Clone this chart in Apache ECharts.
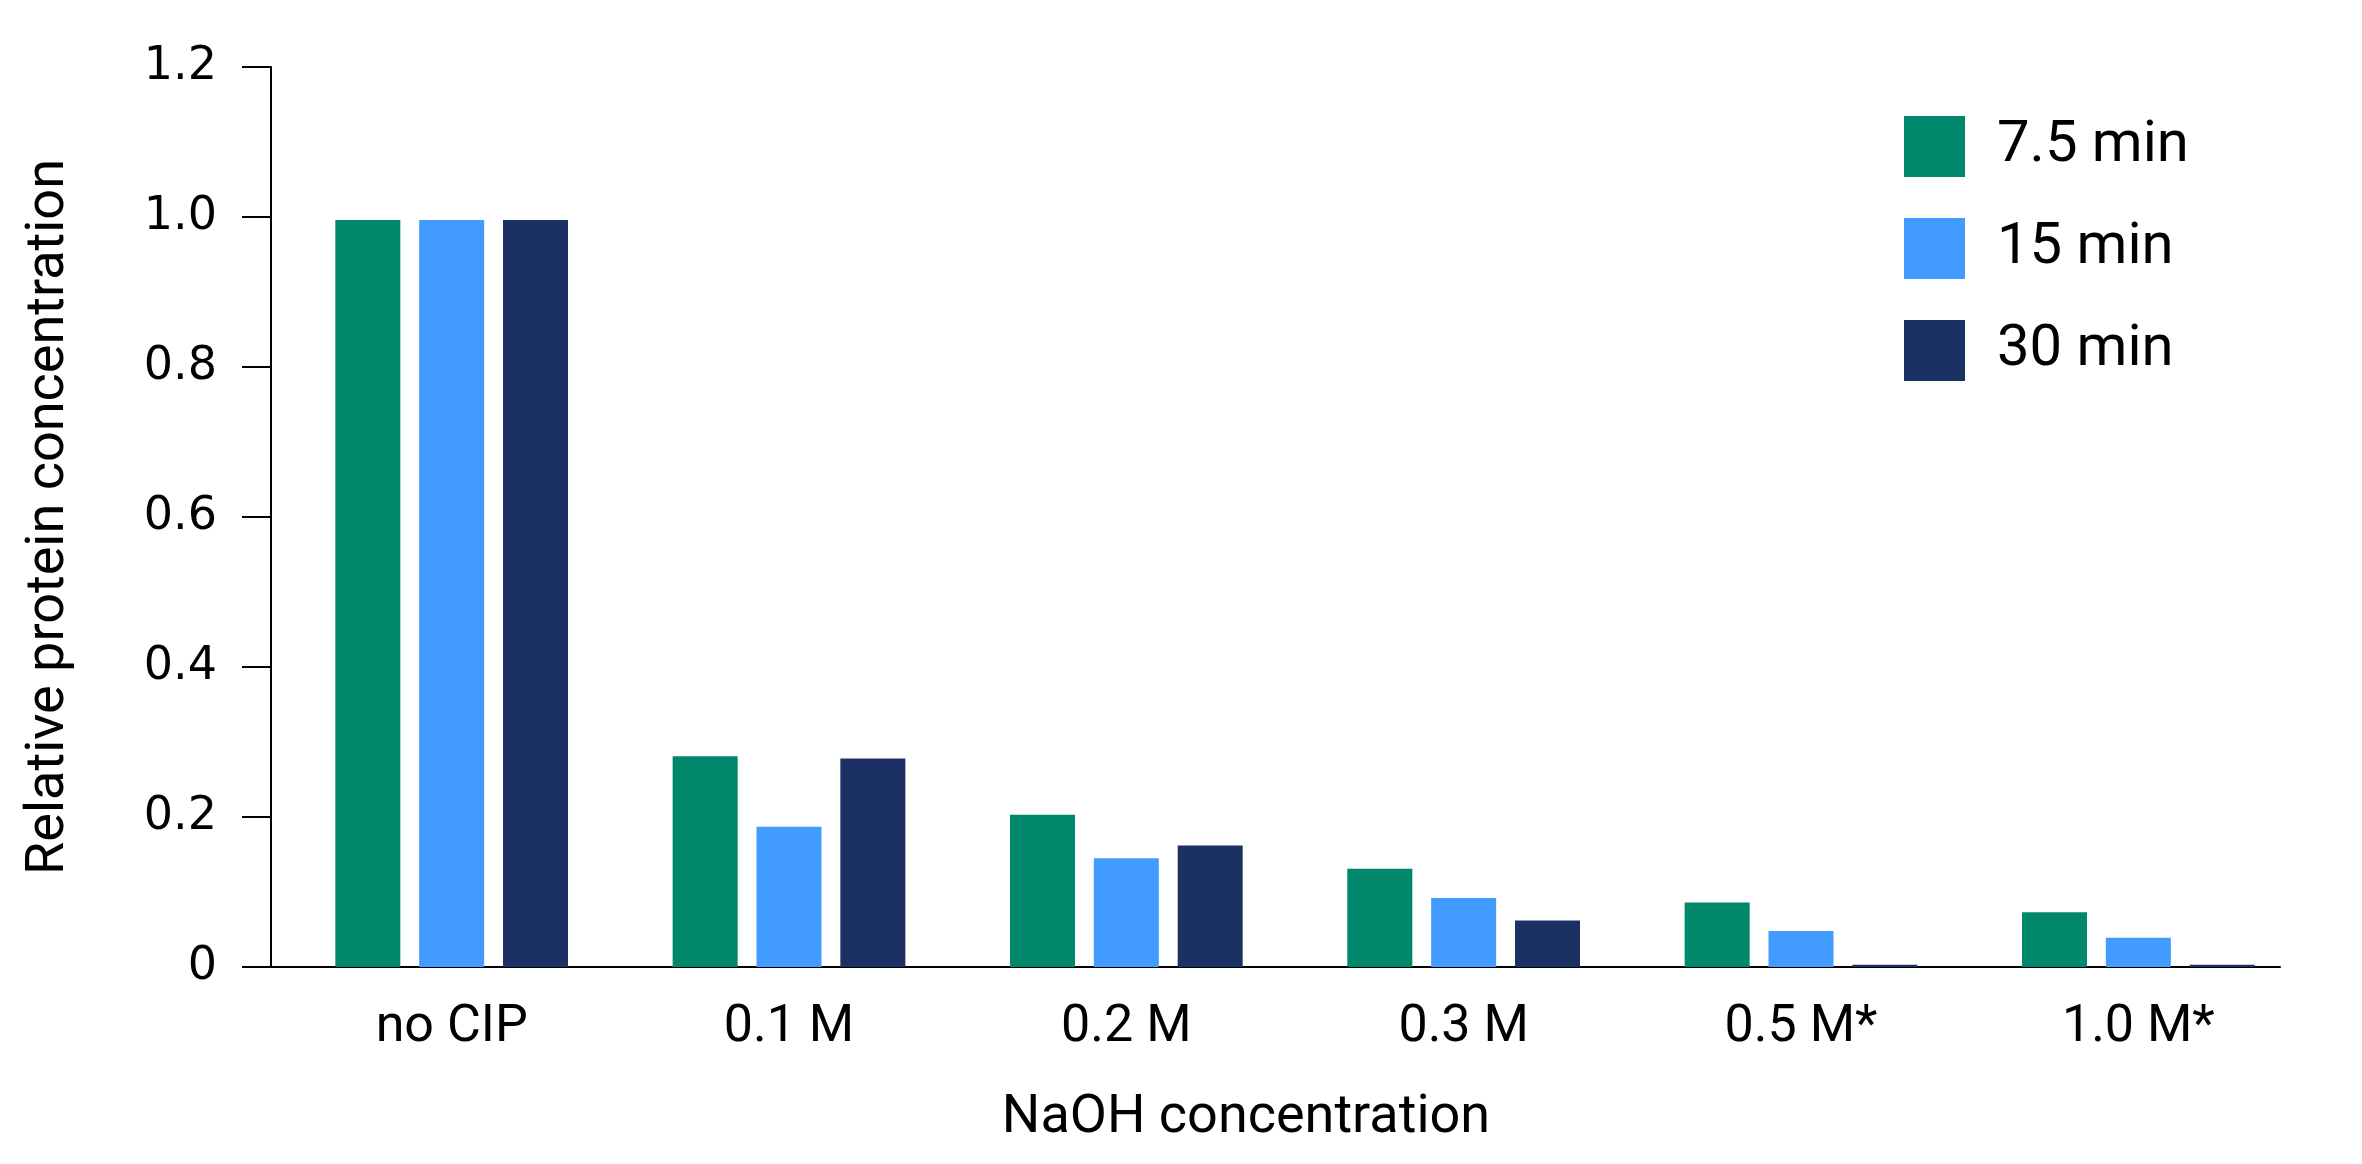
<!DOCTYPE html>
<html>
<head>
<meta charset="utf-8">
<script src="https://cdn.jsdelivr.net/npm/echarts@6/dist/echarts.min.js"></script>
<style>
html,body{margin:0;padding:0;background:#fff;}
#chart{width:2362px;height:1164px;}
</style>
</head>
<body>
<div id="chart"></div>
<script>
const categories = ['no CIP', '0.1 M', '0.2 M', '0.3 M', '0.5 M*', '1.0 M*'];
const seriesNames = ['7.5 min', '15 min', '30 min'];
const values75 = [0.996, 0.281, 0.203, 0.131, 0.086, 0.073];
const values15 = [0.996, 0.187, 0.145, 0.092, 0.048, 0.039];
const values30 = [0.996, 0.278, 0.162, 0.062, 0.003, 0.003];
const yTickLabels = ['0', '0.2', '0.4', '0.6', '0.8', '1.0', '1.2'];
const colors = ['#00876C', '#429BFF', '#1C3163'];

const chart = echarts.init(document.getElementById('chart'));
const seriesValues = [values75, values15, values30];

chart.setOption({
  animation: false,
  backgroundColor: '#ffffff',
  grid: [
    { left: 283, right: 55, top: 67, bottom: 197 },
    { left: 271, right: 82, top: 67, bottom: 197 }
  ],
  legend: {
    orient: 'vertical',
    left: 1904,
    top: 112,
    padding: 0,
    itemWidth: 61,
    itemHeight: 61,
    itemGap: 33,
    icon: 'rect',
    data: seriesNames,
    textStyle: {
      fontFamily: 'Roboto',
      fontSize: 58,
      color: '#000',
      lineHeight: 61,
      padding: [8, 0, 0, 27]
    }
  },
  xAxis: [
    {
      type: 'category',
      gridIndex: 0,
      data: categories,
      axisLine: { show: false },
      axisTick: { show: false },
      axisLabel: {
        fontFamily: 'Roboto',
        fontSize: 52,
        color: '#000',
        margin: 35
      },
      name: 'NaOH concentration',
      nameLocation: 'middle',
      nameGap: 124,
      nameTextStyle: {
        fontFamily: 'Roboto',
        fontSize: 54,
        color: '#000',
        padding: [0, 98, 0, 0]
      }
    },
    {
      type: 'value',
      gridIndex: 1,
      min: 0,
      max: 1,
      axisLine: { show: true, lineStyle: { color: '#000', width: 2 } },
      axisTick: { show: false },
      axisLabel: { show: false },
      splitLine: { show: false }
    }
  ],
  yAxis: [
    {
      type: 'value',
      gridIndex: 0,
      min: 0,
      max: 1.2,
      interval: 0.2,
      show: false,
      splitLine: { show: false }
    },
    {
      type: 'value',
      gridIndex: 1,
      min: 0,
      max: 1.2,
      interval: 0.2,
      axisLine: { show: true, lineStyle: { color: '#000', width: 2 } },
      axisTick: { show: true, length: 29, lineStyle: { color: '#000', width: 2 } },
      splitLine: { show: false },
      axisLabel: {
        fontFamily: 'DejaVu Sans',
        fontSize: 46,
        color: '#000',
        margin: 54,
        formatter: function (v) {
          return yTickLabels[Math.round(v / 0.2)];
        }
      },
      name: 'Relative protein concentration',
      nameLocation: 'middle',
      nameRotate: 90,
      nameGap: 195,
      nameTextStyle: {
        fontFamily: 'Roboto',
        fontSize: 54,
        color: '#000'
      }
    }
  ],
  series: seriesNames.map(function (name, i) {
    return {
      name: name,
      type: 'bar',
      xAxisIndex: 0,
      yAxisIndex: 0,
      data: seriesValues[i],
      barWidth: 65,
      barGap: '29%',
      itemStyle: { color: colors[i] }
    };
  })
});
</script>
</body>
</html>
